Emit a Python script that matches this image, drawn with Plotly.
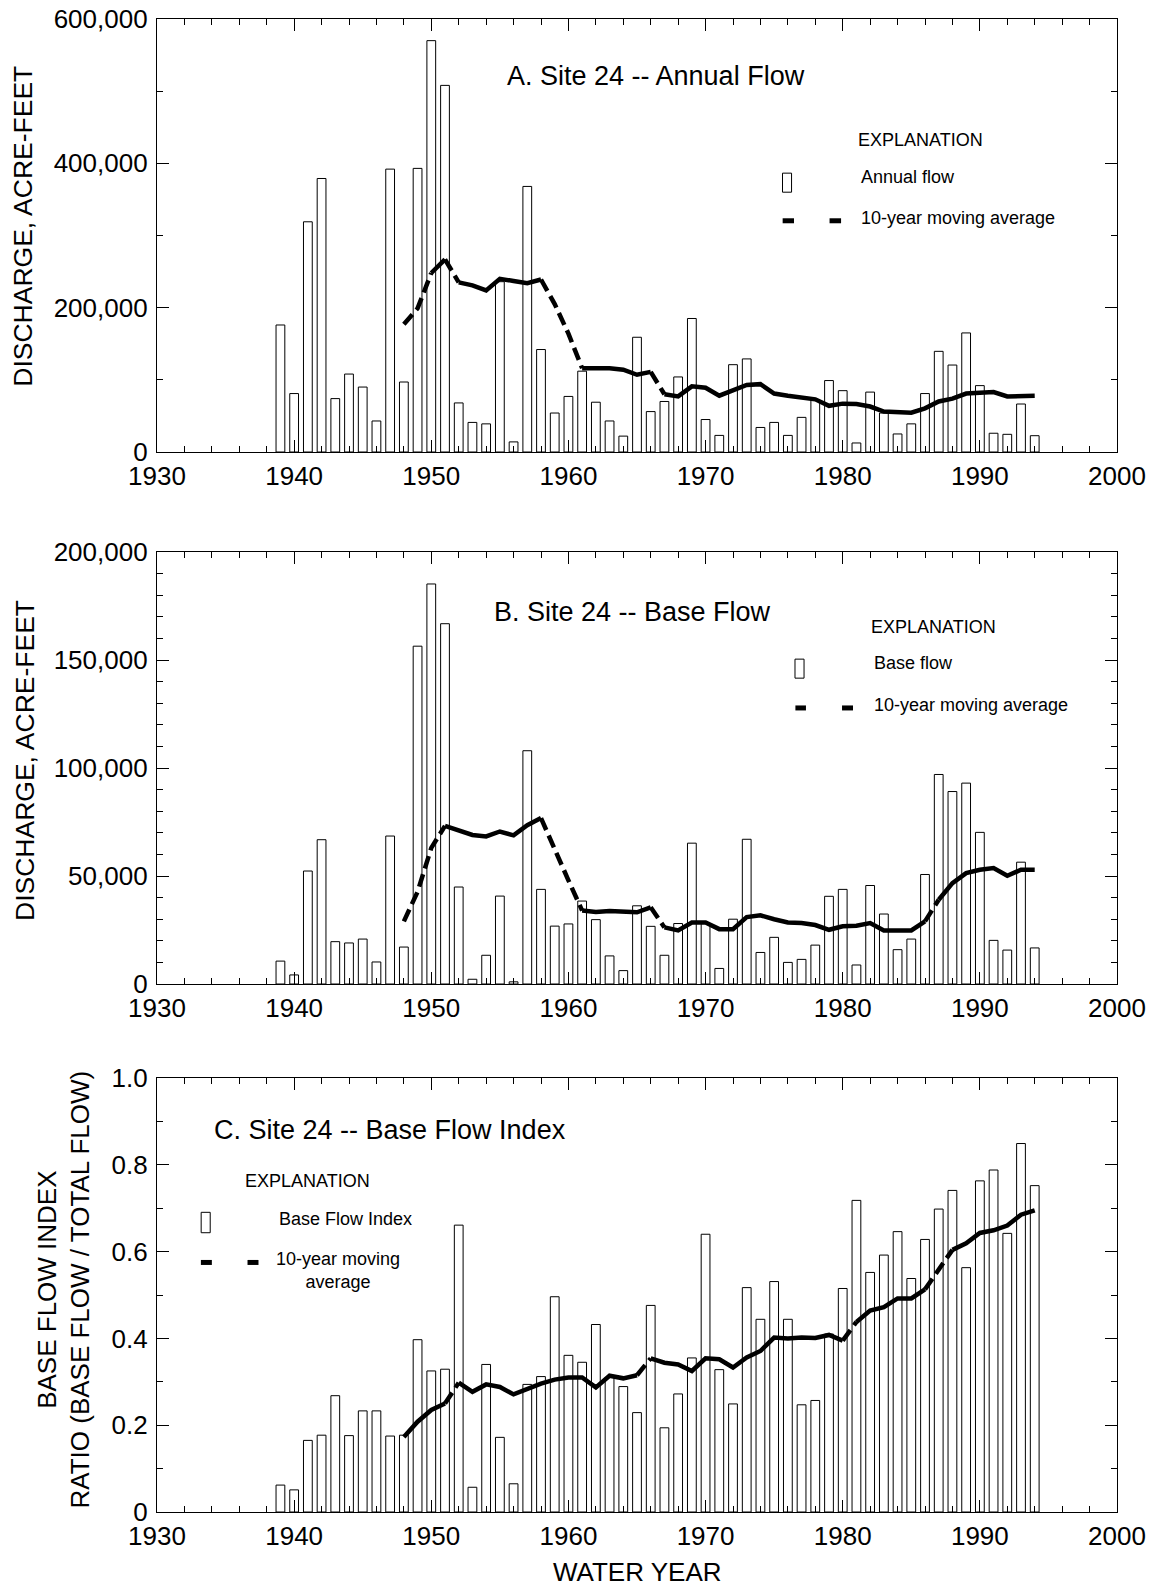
import plotly.graph_objects as go

YEARS = list(range(1939, 1995))
ANNUAL_FLOW = [176000, 81000, 319000, 379000, 74000, 108000, 90000, 43000, 392000, 97000,
               393000, 570000, 508000, 68000, 41000, 39000, 236000, 14000, 368000, 142000,
               54000, 77000, 112000, 69000, 43000, 22000, 159000, 56000, 70000, 104000,
               185000, 45000, 23000, 121000, 129000, 34000, 41000, 23000, 48000, 72000,
               99000, 85000, 12500, 83000, 54000, 25000, 39000, 81000, 139500, 120500,
               165000, 92000, 26000, 24500, 66500, 22600]
BASE_FLOW = [10600, 4200, 52300, 66800, 19600, 19000, 20800, 10200, 68500, 17100,
             156400, 185200, 166800, 44900, 2200, 13300, 40700, 1000, 108000, 43800,
             26800, 27800, 38400, 29800, 13000, 6200, 36200, 26700, 13300, 28000,
             65200, 28000, 7200, 30000, 67000, 14600, 21600, 10000, 11400, 18000,
             40600, 43800, 8800, 45600, 32400, 15900, 20800, 50700, 97000, 89100,
             93000, 70200, 20200, 15700, 56400, 16700]
BFI = [0.062, 0.051, 0.165, 0.177, 0.268, 0.176, 0.233, 0.233, 0.175, 0.177,
       0.397, 0.325, 0.329, 0.661, 0.057, 0.340, 0.172, 0.065, 0.294, 0.312,
       0.496, 0.361, 0.345, 0.432, 0.310, 0.289, 0.229, 0.476, 0.194, 0.272,
       0.355, 0.640, 0.328, 0.249, 0.517, 0.444, 0.531, 0.444, 0.247, 0.257,
       0.410, 0.515, 0.718, 0.552, 0.592, 0.646, 0.538, 0.628, 0.698, 0.741,
       0.563, 0.763, 0.788, 0.642, 0.849, 0.752]

MA_YEARS = list(range(1948, 1995))
MA_ANNUAL = [177000, 199000, 248000, 267000, 235000, 231000, 224000, 240000, 237000, 234000,
             239000, 205000, 164000, 116000, 116000, 116000, 114000, 107000, 111000, 80000,
             77000, 91000, 89000, 78000, 85000, 93000, 94000, 81000, 78000, 76000,
             73000, 64000, 67000, 66500, 63000, 56000, 55000, 54500, 60500, 70000,
             74000, 81000, 82000, 83000, 77000, 78000, 78000]
MA_BASE = [29000, 42700, 63000, 73200, 70900, 69000, 68300, 70600, 68800, 73500,
           76800, 62000, 48000, 34000, 33300, 33800, 33400, 33200, 35500, 26200,
           24800, 28500, 28500, 25400, 25400, 31000, 31800, 30000, 28500, 28200,
           27300, 25100, 26700, 27000, 28200, 24800, 24800, 24800, 29000, 39000,
           46700, 51300, 52900, 53700, 50100, 52900, 52900]
MA_BFI = [0.173, 0.208, 0.235, 0.250, 0.298, 0.277, 0.294, 0.288, 0.271, 0.283,
          0.296, 0.305, 0.310, 0.310, 0.287, 0.314, 0.308, 0.315, 0.354, 0.344,
          0.340, 0.325, 0.354, 0.352, 0.333, 0.356, 0.371, 0.402, 0.400, 0.402,
          0.401, 0.408, 0.395, 0.438, 0.464, 0.472, 0.492, 0.492, 0.513, 0.558,
          0.604, 0.619, 0.643, 0.649, 0.660, 0.685, 0.695]

# line-style runs of the moving-average curves
SEG_A = [(1948, 1950, "d"), (1950, 1951, "s"), (1951, 1952, "d"), (1952, 1958, "s"),
         (1958, 1961, "d"), (1961, 1966, "s"), (1966, 1967, "d"), (1967, 1994, "s")]
SEG_B = [(1948, 1951, "d"), (1951, 1958, "s"), (1958, 1961, "d"), (1961, 1966, "s"),
         (1966, 1967, "d"), (1967, 1986, "s"), (1986, 1987, "d"), (1987, 1994, "s")]
SEG_C = [(1948, 1951, "s"), (1951, 1952, "d"), (1952, 1965, "s"), (1965, 1966, "d"),
         (1966, 1980, "s"), (1980, 1981, "d"), (1981, 1986, "s"), (1986, 1988, "d"),
         (1988, 1994, "s")]

FONT = "Liberation Sans, Arial, sans-serif"
W, H = 1159, 1591
X0, X1 = 157, 1117
PANELS = [(19, 452), (552, 984), (1078, 1512)]

fig = go.Figure()

series = [(ANNUAL_FLOW, MA_ANNUAL, SEG_A), (BASE_FLOW, MA_BASE, SEG_B), (BFI, MA_BFI, SEG_C)]
for i, (bars, ma, segs) in enumerate(series):
    xa = "x" if i == 0 else f"x{i+1}"
    ya = "y" if i == 0 else f"y{i+1}"
    fig.add_trace(go.Bar(x=YEARS, y=bars, width=0.64, xaxis=xa, yaxis=ya,
                         marker=dict(color="white", line=dict(color="black", width=1)),
                         showlegend=False, hoverinfo="skip"))
    for (s, e, st) in segs:
        xs = [y for y in MA_YEARS if s <= y <= e]
        vs = [v for y, v in zip(MA_YEARS, ma) if s <= y <= e]
        fig.add_trace(go.Scatter(x=xs, y=vs, mode="lines", xaxis=xa, yaxis=ya,
                                 line=dict(color="black", width=4.5,
                                           dash="solid" if st == "s" else "13px,6px"),
                                 showlegend=False, hoverinfo="skip"))

axis_common = dict(showline=True, linecolor="black", linewidth=1.3, mirror="ticks",
                   ticks="inside", ticklen=12, tickwidth=1, tickcolor="black",
                   showgrid=False, zeroline=False, automargin=False,
                   tickfont=dict(family=FONT, size=26, color="black"))

yranges = [(0, 600000), (0, 200000), (0, 1.0)]
ydticks = [(200000, 100000), (50000, 10000), (0.2, 0.1)]
for i, (top, bot) in enumerate(PANELS):
    xk = "xaxis" if i == 0 else f"xaxis{i+1}"
    yk = "yaxis" if i == 0 else f"yaxis{i+1}"
    ya = "y" if i == 0 else f"y{i+1}"
    xa = "x" if i == 0 else f"x{i+1}"
    fig.layout[xk] = dict(domain=[X0 / W, X1 / W], anchor=ya, range=[1930, 2000],
                          tickmode="linear", tick0=1930, dtick=10,
                          minor=dict(dtick=2, ticks="inside", ticklen=6, tickcolor="black"),
                          ticklabelstandoff=1, **axis_common)
    ydict = dict(domain=[1 - bot / H, 1 - top / H], anchor=xa, range=list(yranges[i]),
                 tickmode="linear", tick0=0, dtick=ydticks[i][0],
                 minor=dict(dtick=ydticks[i][1], ticks="inside", ticklen=6, tickcolor="black"),
                 ticklabelstandoff=3, **axis_common)
    if i < 2:
        ydict["tickformat"] = ",d"
    else:
        ydict["tickvals"] = [0, 0.2, 0.4, 0.6, 0.8, 1.0]
        ydict["ticktext"] = ["0", "0.2", "0.4", "0.6", "0.8", "1.0"]
        ydict["tickmode"] = "array"
    fig.layout[yk] = ydict

ann = []
def txt(x, y, t, xref, yref, size, xanchor="left", angle=0, align="left"):
    ann.append(dict(x=x, y=y, text=t, xref=xref, yref=yref, showarrow=False,
                    xanchor=xanchor, yanchor="middle", textangle=angle, align=align,
                    font=dict(family=FONT, size=size, color="black")))

# axis titles
txt(22.7 / W, 1 - 226 / H, "DISCHARGE, ACRE-FEET", "paper", "paper", 26.5, "center", -90)
txt(25 / W, 1 - 761 / H, "DISCHARGE, ACRE-FEET", "paper", "paper", 26.5, "center", -90)
txt(63.5 / W, 1 - 1290 / H, "BASE FLOW INDEX<br>RATIO (BASE FLOW / TOTAL FLOW)",
    "paper", "paper", 26, "center", -90, "center")
txt(637 / W, 1 - 1572 / H, "WATER YEAR", "paper", "paper", 26, "center")

# panel titles
txt(1955.4, 0.868, "A. Site 24 -- Annual Flow", "x", "y domain", 27)
txt(1954.4, 0.861, "B. Site 24 -- Base Flow", "x2", "y2 domain", 27)
txt(1934.0, 0.88, "C. Site 24 -- Base Flow Index", "x3", "y3 domain", 27)

shapes = []
def legend(xr, yr, ex, ey, rc, ry, rh, lab1, l1x, l1y, d1, d2, dy, lab2, l2x, l2y,
           l2anchor="left", l2align="left"):
    txt(ex, ey, "EXPLANATION", xr, yr, 18)
    shapes.append(dict(type="rect", xref=xr, yref=yr, x0=rc - 0.33, x1=rc + 0.33,
                       y0=ry - rh / 2, y1=ry + rh / 2,
                       line=dict(color="black", width=1), fillcolor="white"))
    txt(l1x, l1y, lab1, xr, yr, 18)
    for (a, b) in (d1, d2):
        shapes.append(dict(type="line", xref=xr, yref=yr, x0=a, x1=b, y0=dy, y1=dy,
                           line=dict(color="black", width=5)))
    txt(l2x, l2y, lab2, xr, yr, 18, l2anchor, 0, l2align)

legend("x", "y domain", 1980.97, 0.72, 1975.94, 0.622, 0.044, "Annual flow", 1981.2, 0.635,
       (1975.62, 1976.45), (1979.04, 1979.88), 0.534, "10-year moving average", 1981.2, 0.54)
legend("x2", "y2 domain", 1981.9, 0.826, 1976.85, 0.730, 0.044, "Base flow", 1982.1, 0.743,
       (1976.55, 1977.32), (1979.95, 1980.75), 0.639, "10-year moving average", 1982.1, 0.646)
legend("x3", "y3 domain", 1936.25, 0.762, 1933.55, 0.667, 0.047, "Base Flow Index", 1938.74, 0.676,
       (1933.2, 1934.0), (1936.6, 1937.4), 0.575, "10-year moving<br>average", 1943.2, 0.557,
       "center", "center")

fig.update_layout(template="none", width=W, height=H, margin=dict(l=0, r=0, t=0, b=0, pad=0),
                  paper_bgcolor="white", plot_bgcolor="white", barmode="overlay",
                  annotations=ann, shapes=shapes, showlegend=False,
                  font=dict(family=FONT, color="black"))

fig.write_html("out.html")
